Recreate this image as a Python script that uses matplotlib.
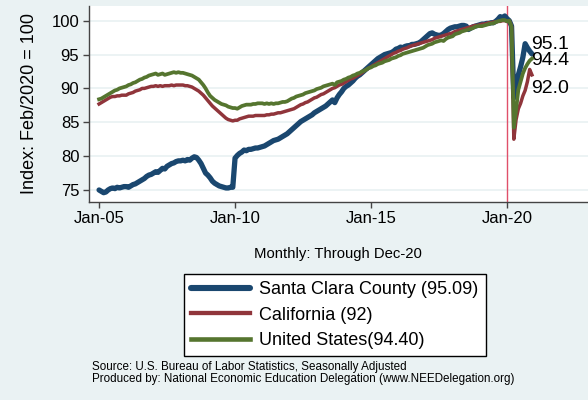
import matplotlib
matplotlib.use("Agg")
import matplotlib.pyplot as plt
import numpy as np

plt.rcParams['font.family'] = ['Liberation Sans', 'DejaVu Sans']

# monthly index values, Jan-2005 .. Dec-2020 (Feb 2020 = 100)
santa_clara = [
    75.0, 74.8, 74.6, 74.7, 75.0, 75.2, 75.3, 75.2, 75.4, 75.3, 75.4, 75.5,  # 2005
    75.5, 75.4, 75.6, 75.8, 75.9, 76.1, 76.3, 76.5, 76.7, 77.0, 77.2, 77.3,  # 2006
    77.5, 77.7, 77.6, 77.9, 78.2, 78.1, 78.5, 78.7, 78.9, 79.0, 79.2, 79.3,  # 2007
    79.3, 79.4, 79.3, 79.5, 79.4, 79.7, 79.9, 79.8, 79.4, 78.9, 78.2, 77.5,  # 2008
    77.2, 76.8, 76.3, 76.0, 75.8, 75.6, 75.5, 75.4, 75.3, 75.3, 75.4, 75.4,  # 2009
    79.7, 80.1, 80.4, 80.6, 80.9, 80.8, 81.0, 81.0, 81.1, 81.2, 81.2, 81.3,  # 2010
    81.4, 81.5, 81.7, 81.9, 82.1, 82.3, 82.4, 82.5, 82.7, 82.9, 83.1, 83.3,  # 2011
    83.6, 83.9, 84.2, 84.5, 84.8, 85.1, 85.3, 85.5, 85.7, 85.9, 86.1, 86.4,  # 2012
    86.6, 86.8, 87.0, 87.2, 87.4, 87.7, 88.0, 88.3, 87.9, 88.6, 89.1, 89.5,  # 2013
    90.0, 90.3, 90.5, 90.8, 91.1, 91.5, 91.8, 92.0, 92.3, 92.6, 92.9, 93.2,  # 2014
    93.5, 93.8, 94.1, 94.4, 94.6, 94.8, 95.0, 95.1, 95.2, 95.3, 95.5, 95.8,  # 2015
    95.9, 96.1, 96.0, 96.2, 96.3, 96.3, 96.5, 96.5, 96.6, 96.7, 96.9, 97.2,  # 2016
    97.5, 97.8, 98.1, 98.2, 98.0, 97.9, 97.8, 97.9, 98.1, 98.4, 98.7, 98.9,  # 2017
    99.0, 99.1, 99.1, 99.2, 99.3, 99.3, 99.2, 98.7, 98.9, 99.1, 99.2, 99.3,  # 2018
    99.4, 99.5, 99.5, 99.6, 99.6, 99.7, 99.7, 99.9, 100.2, 100.6, 100.4, 100.7,  # 2019
    100.3, 100.0, 99.2, 88.6, 90.0, 92.0, 93.2, 94.6, 96.6, 96.0, 95.5, 95.09,  # 2020
]
california = [
    87.7, 87.9, 88.1, 88.3, 88.5, 88.7, 88.8, 88.8, 88.9, 88.9, 89.0, 89.0,
    89.0, 89.2, 89.3, 89.4, 89.6, 89.7, 89.8, 90.0, 90.0, 90.1, 90.2, 90.3,
    90.3, 90.4, 90.3, 90.4, 90.3, 90.4, 90.4, 90.4, 90.5, 90.4, 90.5, 90.5,
    90.5, 90.5, 90.4, 90.4, 90.3, 90.2, 90.0, 89.8, 89.6, 89.3, 89.0, 88.6,
    88.2, 87.8, 87.4, 87.1, 86.8, 86.5, 86.2, 85.9, 85.6, 85.4, 85.3, 85.2,
    85.3, 85.3, 85.5, 85.6, 85.7, 85.8, 85.9, 85.9, 85.9, 86.0, 86.0, 86.0,
    86.0, 86.0, 86.1, 86.1, 86.2, 86.2, 86.3, 86.4, 86.4, 86.5, 86.6, 86.7,
    86.8, 86.9, 87.0, 87.2, 87.4, 87.6, 87.7, 87.9, 88.0, 88.2, 88.4, 88.6,
    88.7, 88.9, 89.1, 89.2, 89.4, 89.6, 89.8, 90.0, 90.1, 90.3, 90.5, 90.6,
    90.8, 91.0, 91.2, 91.4, 91.5, 91.7, 91.9, 92.1, 92.3, 92.6, 92.8, 93.0,
    93.2, 93.4, 93.6, 93.8, 94.0, 94.2, 94.4, 94.6, 94.8, 95.0, 95.2, 95.3,
    95.5, 95.6, 95.8, 95.9, 96.0, 96.2, 96.3, 96.4, 96.5, 96.6, 96.7, 96.8,
    96.9, 97.0, 97.1, 97.2, 97.4, 97.5, 97.6, 97.7, 97.8, 97.9, 98.0, 98.1,
    98.2, 98.4, 98.5, 98.6, 98.7, 98.8, 98.9, 99.0, 99.1, 99.2, 99.3, 99.3,
    99.4, 99.5, 99.5, 99.6, 99.7, 99.7, 99.8, 99.8, 99.9, 99.9, 100.0, 100.0,
    99.9, 100.0, 99.2, 82.5, 85.4, 87.0, 87.8, 88.9, 89.7, 91.0, 92.8, 92.0,
]
united_states = [
    88.4, 88.5, 88.7, 88.9, 89.1, 89.3, 89.5, 89.7, 89.8, 90.0, 90.1, 90.2,
    90.3, 90.5, 90.6, 90.8, 90.9, 91.1, 91.3, 91.4, 91.6, 91.7, 91.9, 92.0,
    92.1, 92.2, 92.0, 92.1, 92.2, 92.0, 92.1, 92.2, 92.3, 92.4, 92.3, 92.4,
    92.3, 92.3, 92.2, 92.1, 92.0, 91.9, 91.7, 91.5, 91.3, 90.9, 90.5, 90.0,
    89.4, 88.9, 88.6, 88.3, 88.1, 87.9, 87.7, 87.6, 87.5, 87.3, 87.2, 87.1,
    87.1, 87.0, 87.2, 87.4, 87.5, 87.6, 87.6, 87.6, 87.7, 87.7, 87.8, 87.8,
    87.8, 87.7, 87.8, 87.7, 87.8, 87.7, 87.8, 87.8, 87.9, 88.0, 88.0, 88.1,
    88.3, 88.5, 88.6, 88.8, 88.9, 89.0, 89.1, 89.3, 89.4, 89.5, 89.6, 89.7,
    89.9, 90.0, 90.1, 90.3, 90.4, 90.5, 90.6, 90.7, 90.5, 90.9, 91.0, 91.1,
    91.3, 91.4, 91.6, 91.7, 91.9, 92.0, 92.2, 92.3, 92.5, 92.6, 92.8, 93.0,
    93.1, 93.3, 93.4, 93.6, 93.7, 93.8, 94.0, 94.1, 94.2, 94.4, 94.5, 94.6,
    94.8, 94.9, 95.1, 95.2, 95.3, 95.4, 95.5, 95.6, 95.7, 95.8, 95.9, 96.0,
    96.2, 96.4, 96.5, 96.6, 96.8, 96.9, 97.0, 97.1, 97.0, 97.3, 97.5, 97.6,
    97.7, 98.0, 98.1, 98.2, 98.4, 98.5, 98.6, 98.7, 98.8, 98.9, 99.1, 99.2,
    99.2, 99.2, 99.3, 99.4, 99.5, 99.6, 99.6, 99.8, 99.9, 100.0, 100.1, 100.1,
    99.9, 100.0, 99.1, 84.2, 86.8, 89.8, 91.0, 92.2, 93.0, 93.6, 94.1, 94.4,
]
start_year = 2005
tick_years = [2005, 2010, 2015, 2020]
tick_labels = ["Jan-05", "Jan-10", "Jan-15", "Jan-20"]
y_ticks = [75, 80, 85, 90, 95, 100]
legend_labels = ["Santa Clara County (95.09)", "California (92)", "United States(94.40)"]
end_labels = ["95.1", "92.0", "94.4"]

NAVY, MAROON, GREEN = "#1a476f", "#90353b", "#55752f"
BG = "#eaf2f3"
widths = [3.8, 2.5, 2.7]

months = start_year + np.arange(len(santa_clara)) / 12.0

fig = plt.figure(figsize=(5.88, 4.0), dpi=100, facecolor=BG)
ax = fig.add_axes([89 / 588, 1 - 201.7 / 400, 551 / 588, 195.7 / 400])
ax.set_facecolor("white")

for v in y_ticks:
    ax.axhline(v, color=BG, lw=1.3, zorder=0)
ax.axvline(2020, color="#e0506a", lw=1.0, zorder=1)

l1, = ax.plot(months, santa_clara, color=NAVY, lw=widths[0], zorder=3, solid_capstyle="round")
l2, = ax.plot(months, california, color=MAROON, lw=widths[1], zorder=4)
l3, = ax.plot(months, united_states, color=GREEN, lw=widths[2], zorder=5)

# end-of-series value labels
offsets = [(-1, 9), (-1, -14), (-1, -2)]
for series, txt, off in zip([santa_clara, california, united_states], end_labels, offsets):
    ax.annotate(txt, (months[-1], series[-1]), xytext=off,
                textcoords="offset pixels", fontsize=14, va="center", ha="left",
                color="black", annotation_clip=False)

ax.set_xlim(2004.63, 2024.89)
ax.set_ylim(73.27, 102.17)
ax.set_xticks(tick_years)
ax.set_xticklabels(tick_labels)
ax.set_yticks(y_ticks)
ax.tick_params(axis="both", labelsize=12, length=4, width=1, color="#444444", pad=3)
for s in ["top", "right"]:
    ax.spines[s].set_visible(False)
for s in ["left", "bottom"]:
    ax.spines[s].set_color("#444444")
    ax.spines[s].set_linewidth(1.0)

fig.text(30 / 588, 1 - 104 / 400, "Index: Feb/2020 = 100", rotation=90,
         ha="center", va="center", fontsize=13)
fig.text(338 / 588, 1 - 254 / 400, "Monthly: Through Dec-20", ha="center", va="center", fontsize=10.7)

leg = fig.legend([l1, l2, l3], legend_labels, loc="upper left",
                 bbox_to_anchor=(184 / 588, 1 - 274 / 400), borderaxespad=0, fontsize=13,
                 frameon=True, fancybox=False, edgecolor="black", framealpha=1,
                 handlelength=3.3, handletextpad=0.5, labelspacing=0.48, borderpad=0.38)
leg.get_frame().set_linewidth(1.0)
for h, w in zip(leg.get_lines(), widths):
    h.set_linewidth(w + 0.6)

fig.text(92 / 588, 1 - 367 / 400, "Source: U.S. Bureau of Labor Statistics, Seasonally Adjusted",
         fontsize=8.4, va="center")
fig.text(92 / 588, 1 - 379 / 400, "Produced by: National Economic Education Delegation (www.NEEDelegation.org)",
         fontsize=8.4, va="center")

fig.savefig("out.png", dpi=100, facecolor=BG)
